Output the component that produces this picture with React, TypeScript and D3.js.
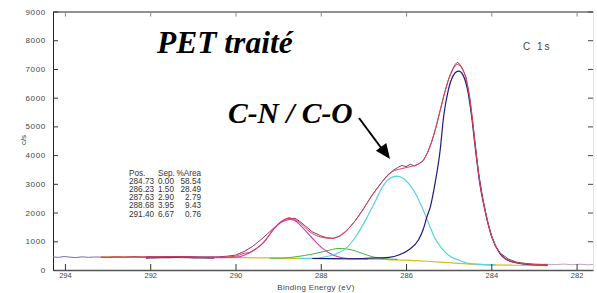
import React, { useRef, useEffect } from 'react';
import * as d3 from 'd3';

const W = 597;
const H = 293;

// axis ticks
const yTicks = [0, 1000, 2000, 3000, 4000, 5000, 6000, 7000, 8000, 9000];
const xTicks = [294, 292, 290, 288, 286, 284, 282];

// [binding energy (eV), counts/s]
const rawLeft: [number, number][] = [
  [294.28, 455], [294.15, 440], [294.02, 468], [293.88, 448], [293.75, 432], [293.6, 458],
  [293.45, 442], [293.3, 452], [293.16, 448],
];
const rawCounts: [number, number][] = [
  [293.16, 448], [293.0, 440], [292.8, 456], [292.6, 445], [292.4, 462], [292.2, 450], [292.0, 458],
  [291.8, 445], [291.6, 460], [291.4, 452], [291.2, 440], [291.0, 455], [290.8, 440], [290.6, 450],
  [290.4, 460], [290.2, 480], [290.0, 520], [289.8, 640], [289.6, 820], [289.4, 1060], [289.2, 1330],
  [289.0, 1600], [288.85, 1760], [288.75, 1820], [288.68, 1790], [288.6, 1800], [288.5, 1700],
  [288.35, 1520], [288.2, 1330], [288.0, 1190], [287.85, 1120], [287.7, 1105], [287.55, 1180],
  [287.4, 1350], [287.2, 1700], [287.0, 2120], [286.8, 2600], [286.6, 3000], [286.45, 3280],
  [286.3, 3470], [286.2, 3560], [286.1, 3640], [286.0, 3600], [285.9, 3680], [285.8, 3620],
  [285.7, 3700], [285.6, 3800], [285.5, 4080], [285.4, 4450], [285.3, 4950], [285.2, 5550],
  [285.1, 6150], [285.0, 6650], [284.9, 7020], [284.85, 7150], [284.8, 7230], [284.75, 7180],
  [284.7, 7080], [284.6, 6750], [284.5, 5950], [284.4, 4700], [284.3, 3400], [284.2, 2500],
  [284.1, 1750], [284.0, 1200], [283.9, 830], [283.8, 600], [283.6, 380], [283.4, 270],
  [283.2, 230], [283.0, 205], [282.8, 195], [282.68, 198],
];
const rawRight: [number, number][] = [
  [282.68, 198], [282.5, 188], [282.3, 205], [282.1, 185], [281.9, 200], [281.75, 182], [281.615, 192],
];
const background: [number, number][] = [
  [293.16, 448], [292.0, 446], [291.0, 440], [290.0, 432], [289.5, 425], [289.0, 414], [288.5, 405],
  [288.0, 398], [287.5, 390], [287.0, 380], [286.5, 366], [286.0, 345], [285.5, 305], [285.0, 255],
  [284.5, 208], [284.0, 180], [283.5, 166], [283.0, 158], [282.68, 155],
];
const envelope: [number, number][] = [
  [293.16, 448], [292.0, 450], [291.4, 462], [290.8, 442], [290.3, 446], [290.0, 480], [289.8, 580],
  [289.67, 615], [289.5, 760], [289.36, 940], [289.2, 1230], [289.12, 1405], [288.97, 1645],
  [288.85, 1760], [288.71, 1800], [288.55, 1720], [288.4, 1520], [288.23, 1300], [288.05, 1170],
  [287.88, 1112], [287.73, 1100], [287.55, 1200], [287.4, 1370], [287.18, 1737], [286.87, 2432],
  [286.56, 3068], [286.33, 3416], [286.09, 3534], [285.86, 3614], [285.63, 3763], [285.47, 4170],
  [285.32, 4865], [285.16, 5792], [285.01, 6603], [284.89, 7008], [284.8, 7158], [284.7, 7043],
  [284.6, 6700], [284.54, 6300], [284.46, 5450], [284.37, 4250], [284.27, 3060], [284.15, 2120],
  [283.99, 1180], [283.8, 595], [283.53, 300], [283.14, 205], [282.68, 175],
];
const peakCH: [number, number][] = [
  [288.2, 400], [287.5, 392], [287.03, 400], [286.64, 420], [286.4, 440], [286.17, 521], [285.94, 695],
  [285.71, 1043], [285.6, 1400], [285.51, 1852], [285.43, 2200], [285.32, 3013], [285.2, 4170],
  [285.12, 5327], [285.01, 6255], [284.89, 6776], [284.8, 6915], [284.76, 6925], [284.66, 6776],
  [284.54, 6140], [284.46, 5327], [284.37, 4170], [284.27, 3013], [284.15, 2085], [283.99, 1157],
  [283.8, 579], [283.53, 290], [283.14, 197], [282.75, 174], [282.68, 172],
];
const peakCN: [number, number][] = [
  [288.5, 400], [288.19, 406], [287.96, 441], [287.65, 556], [287.41, 754], [287.18, 1157],
  [286.95, 1737], [286.71, 2432], [286.55, 2900], [286.4, 3170], [286.22, 3265], [286.05, 3180],
  [285.94, 3013], [285.78, 2665], [285.63, 2200], [285.47, 1622], [285.32, 1101], [285.16, 754],
  [285.01, 521], [284.77, 348], [284.54, 232], [284.23, 197], [283.9, 180],
];
const peakCO: [number, number][] = [
  [289.2, 412], [288.89, 416], [288.58, 462], [288.19, 556], [287.88, 660], [287.57, 750],
  [287.26, 695], [287.03, 580], [286.79, 462], [286.56, 400], [286.2, 370],
];
const peakOCO: [number, number][] = [
  [290.6, 432], [290.3, 434], [289.98, 445], [289.67, 602], [289.36, 927], [289.12, 1390],
  [288.97, 1622], [288.82, 1730], [288.71, 1761], [288.6, 1720], [288.46, 1529], [288.23, 1157],
  [287.96, 754], [287.65, 486], [287.41, 406], [287.1, 384], [286.9, 380],
];
const peakShake: [number, number][] = [
  [292.1, 430], [291.9, 436], [291.6, 446], [291.4, 450], [291.1, 444], [290.8, 432], [290.5, 426],
];

const tableRows = [
  ['Pos.', 'Sep.', '%Area'],
  ['284.73', '0.00', '58.54'],
  ['286.23', '1.50', '28.49'],
  ['287.63', '2.90', '2.79'],
  ['288.68', '3.95', '9.43'],
  ['291.40', '6.67', '0.76'],
];

const App = () => {
  const ref = useRef<SVGSVGElement>(null);

  useEffect(() => {
    const svg = d3.select(ref.current);
    svg.selectAll('*').remove();

    const x = d3.scaleLinear().domain([294.28, 281.615]).range([53, 593]);
    const y = d3.scaleLinear().domain([0, 9000]).range([270, 11.5]);
    const sans = '"Liberation Sans", Arial, sans-serif';
    const serif = '"Liberation Serif", "Times New Roman", serif';

    svg.append('rect').attr('width', W).attr('height', H).attr('fill', '#fff');

    // frame / axes
    const left = svg.append('g').attr('transform', 'translate(53,0)')
      .call(d3.axisLeft(y).tickValues(yTicks).tickFormat(d3.format('d')).tickSizeInner(-5).tickSizeOuter(0).tickPadding(7));
    left.selectAll('text').attr('font-size', 8).attr('font-family', sans).attr('fill', '#444')
      .attr('letter-spacing', 0.7);
    left.selectAll('line').attr('stroke', '#333');
    left.select('.domain').attr('stroke', '#222');

    const top = svg.append('g').attr('transform', 'translate(0,11.5)')
      .call(d3.axisTop(x).tickValues(xTicks).tickSizeInner(-5).tickSizeOuter(0).tickFormat(() => ''));
    top.select('.domain').attr('stroke', '#222');
    top.selectAll('line').attr('stroke', '#888');

    const right = svg.append('g').attr('transform', 'translate(593,0)')
      .call(d3.axisRight(y).tickValues(yTicks).tickSizeInner(-5).tickSizeOuter(0).tickFormat(() => ''));
    right.select('.domain').attr('stroke', '#e4e4e4');
    right.selectAll('line').attr('stroke', '#444');

    // curves
    const line = d3.line<[number, number]>().x(d => x(d[0])).y(d => y(d[1]));
    const smooth = d3.line<[number, number]>().x(d => x(d[0])).y(d => y(d[1])).curve(d3.curveMonotoneX);
    const draw = (data: [number, number][], color: string, width: number, gen = smooth) =>
      svg.append('path').datum(data).attr('d', gen).attr('fill', 'none')
        .attr('stroke', color).attr('stroke-width', width).attr('stroke-linejoin', 'round');

    draw(rawLeft, '#7f6bb0', 1, line);
    draw(rawRight, '#b9a6cc', 1, line);
    draw(background, '#cfc21a', 1.2);
    draw(peakShake, '#5b1d6e', 2);
    draw(peakCO, '#3cb43c', 1);
    draw(peakOCO, '#d23fc1', 1.2);
    draw(peakCN, '#55d3e2', 1.2);
    draw(peakCH, '#1c1c7a', 1.2);
    draw(rawCounts, '#8e3563', 1, line);
    draw(envelope, '#e0405a', 1);

    const bottom = svg.append('g').attr('transform', 'translate(0,270)')
      .call(d3.axisBottom(x).tickValues(xTicks).tickSizeInner(-6).tickSizeOuter(0).tickPadding(3));
    bottom.selectAll('text').attr('font-size', 7.5).attr('font-family', sans).attr('fill', '#444');
    bottom.selectAll('line').attr('stroke', '#333');
    bottom.select('.domain').attr('stroke', '#555').attr('stroke-width', 1.6);

    // axis titles
    svg.append('text').attr('x', 316).attr('y', 290).attr('text-anchor', 'middle')
      .attr('font-size', 8).attr('font-family', sans).attr('fill', '#444').attr('letter-spacing', 0.3)
      .text('Binding Energy  (eV)');
    svg.append('text').attr('transform', 'translate(26,140) rotate(-90)').attr('text-anchor', 'middle')
      .attr('font-size', 8).attr('font-family', sans).attr('fill', '#444').text('c/s');

    // annotations
    svg.append('text').attr('x', 157).attr('y', 53).attr('font-size', 31.5).attr('font-weight', 'bold')
      .attr('font-style', 'italic').attr('font-family', serif).attr('fill', '#000').text('PET traité');
    svg.append('text').attr('x', 228).attr('y', 123).attr('font-size', 29.5).attr('font-weight', 'bold')
      .attr('font-style', 'italic').attr('font-family', serif).attr('fill', '#000').text('C-N / C-O');
    svg.append('text').attr('x', 523).attr('y', 50).attr('font-size', 10).attr('font-family', sans)
      .attr('fill', '#444').attr('letter-spacing', 2).text('C 1s');

    svg.append('line').attr('x1', 359).attr('y1', 118).attr('x2', 382).attr('y2', 149)
      .attr('stroke', '#000').attr('stroke-width', 2);
    svg.append('polygon').attr('points', '390,159 375.9,150.7 386.3,143.1').attr('fill', '#000');

    // fit table
    const table = svg.append('g').attr('font-family', sans).attr('font-size', 8.2).attr('fill', '#333');
    tableRows.forEach((row, i) => {
      const ty = 175.5 + i * 8.2;
      table.append('text').attr('x', 129).attr('y', ty).text(row[0]);
      table.append('text').attr('x', 158).attr('y', ty).text(row[1]);
      table.append('text').attr('x', 201).attr('y', ty).attr('text-anchor', 'end').text(row[2]);
    });
  }, []);

  return <svg ref={ref} width={W} height={H} style={{ position: 'absolute', left: 0, top: 0 }} />;
};

export default App;
